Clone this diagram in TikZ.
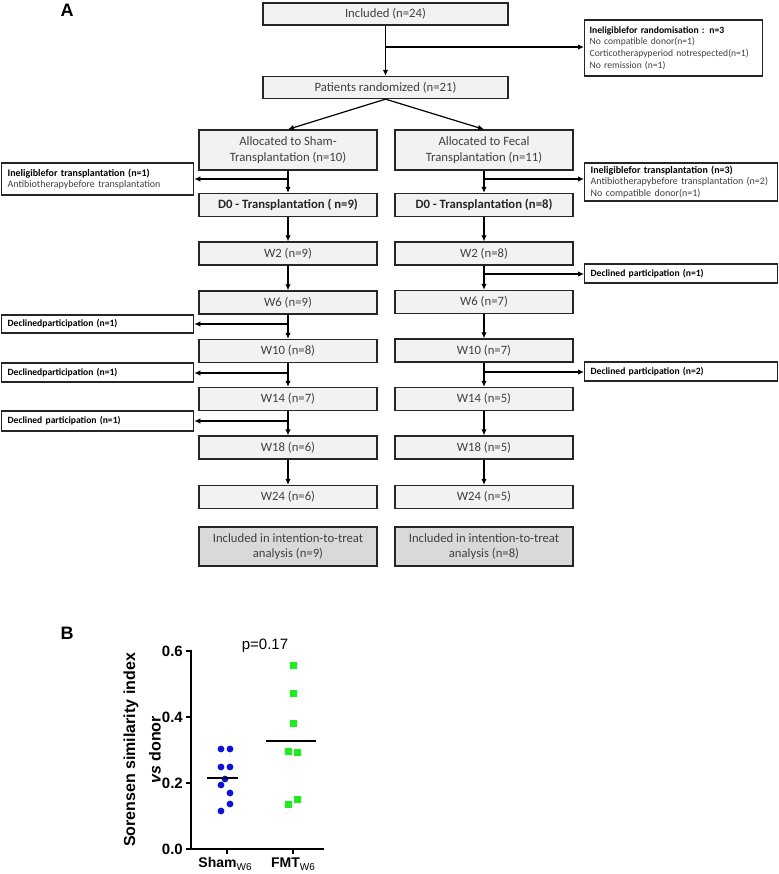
\documentclass[tikz,border=0pt]{standalone}
\usepackage{fontspec}
\setmainfont{Carlito}
\newfontfamily\arialf{Liberation Sans}
\usetikzlibrary{arrows.meta}
\definecolor{boxfill}{HTML}{F2F2F2}
\definecolor{ittfill}{HTML}{D9D9D9}
\definecolor{edge}{HTML}{262626}
\definecolor{txt}{HTML}{404040}
\definecolor{shamblue}{HTML}{0A10E8}
\definecolor{fmtgreen}{HTML}{18F018}
\begin{document}
\begin{tikzpicture}[x=1pt,y=-1pt,
  flow/.style={draw=edge, line width=1.3pt, fill=boxfill, inner sep=0pt, text=txt,
    font=\fontsize{12.7}{15.5}\selectfont, align=center, minimum width=178pt, minimum height=23pt},
  wide/.style={flow, minimum width=245pt, minimum height=22pt},
  itt/.style={flow, fill=ittfill, minimum height=39pt},
  bflow/.style={flow, text=black!85, font=\fontsize{12.7}{15}\selectfont\bfseries},
  side/.style={draw=edge, line width=1.3pt, fill=white, inner xsep=6pt, inner ysep=0pt,
    align=left, text=txt, anchor=west, font=\fontsize{10}{11.7}\selectfont},
  sidel/.style={side, text width=180pt},
  sider/.style={side, text width=181pt},
  decl/.style={font=\fontsize{9.6}{11}\selectfont\bfseries, text=black},
  arr/.style={draw=black, line width=1.2pt, -{Latex[length=6pt,width=5.5pt]}},
  tick/.style={font=\arialf\bfseries\fontsize{15}{15}\selectfont, anchor=east, inner sep=0pt},
  axis/.style={line width=2pt, line cap=rect}
]
\useasboundingbox (0,0) rectangle (778,874);

% ---------- Panel A ----------
\node[font=\arialf\bfseries\fontsize{18}{18}\selectfont] (lblA) at (67,10) {A};

\node[wide] (inc) at (385.5,14) {Included (n=24)};
\node[wide] (rand) at (385.5,87.5) {Patients randomized (n=21)};
\node[side, inner xsep=5pt, text width=168pt, minimum height=56pt, font=\fontsize{9.6}{11.7}\selectfont] (r0) at (584,48)
  {\textbf{\color{black}Ineligiblefor randomisation : n=3}\\No compatible donor(n=1)\\Corticotherapyperiod notrespected(n=1)\\No remission (n=1)};

\node[flow, minimum height=40pt] (sA) at (288,150) {Allocated to  Sham-\\Transplantation (n=10)};
\node[flow, minimum height=40pt] (fA) at (484,150) {Allocated to  Fecal\\Transplantation (n=11)};

\node[bflow] (s0) at (288,205) {D0 - Transplantation  ( n=9)};
\node[bflow] (f0) at (484,205) {D0 - Transplantation  (n=8)};
\node[flow] (s2) at (288,253.5) {W2 (n=9)};
\node[flow] (f2) at (484,253.5) {W2 (n=8)};
\node[flow] (s6) at (288,302.5) {W6 (n=9)};
\node[flow] (f6) at (484,302) {W6 (n=7)};
\node[flow] (s10) at (288,351) {W10 (n=8)};
\node[flow] (f10) at (484,350.5) {W10 (n=7)};
\node[flow] (s14) at (288,399) {W14 (n=7)};
\node[flow] (f14) at (484,399) {W14 (n=5)};
\node[flow] (s18) at (288,447.5) {W18 (n=6)};
\node[flow] (f18) at (484,447.5) {W18 (n=5)};
\node[flow] (s24) at (288,497) {W24 (n=6)};
\node[flow] (f24) at (484,497) {W24 (n=5)};
\node[itt] (sI) at (288,546.5) {Included in intention-to-treat\\analysis  (n=9)};
\node[itt] (fI) at (484,546.5) {Included in intention-to-treat\\analysis  (n=8)};

% side boxes
\node[sidel, minimum height=32pt] (l1) at (1,179)
  {\textbf{\color{black}Ineligiblefor transplantation (n=1)}\\Antibiotherapybefore transplantation};
\node[sider, minimum height=38pt] (r1) at (584,182)
  {\textbf{\color{black}Ineligiblefor transplantation (n=3)}\\Antibiotherapybefore transplantation (n=2)\\No compatible donor(n=1)};
\node[sider, minimum height=19pt, decl] (r2) at (584,273.5) {Declined participation (n=1)};
\node[sidel, minimum height=18pt, decl] (l2) at (1,324) {Declinedparticipation (n=1)};
\node[sider, minimum height=19pt, decl] (r3) at (584,371.5) {Declined participation (n=2)};
\node[sidel, minimum height=19pt, decl] (l3) at (1,372.5) {Declinedparticipation (n=1)};
\node[sidel, minimum height=20pt, decl] (l4) at (1,421) {Declined participation (n=1)};

% junction coordinates
\coordinate (jr0) at (385.5,47);
\coordinate (jl1) at (288,179);
\coordinate (jr1) at (484,179);
\coordinate (jr2) at (484,274);
\coordinate (jl2) at (288,324);
\coordinate (jl3) at (288,373);
\coordinate (jr3) at (484,372);
\coordinate (jl4) at (288,421);

% connectors
\draw[arr] (inc) -- (rand);
\draw[arr] (jr0) -- (jr0 -| r0.west);
\draw[arr] (rand.south) -- (sA.north);
\draw[arr] (rand.south) -- (fA.north);
\draw[arr] (sA) -- (s0);
\draw[arr] (fA) -- (f0);
\draw[arr] (s0) -- (s2);
\draw[arr] (f0) -- (f2);
\draw[arr] (s2) -- (s6);
\draw[arr] (f2) -- (f6);
\draw[arr] (s6) -- (s10);
\draw[arr] (f6) -- (f10);
\draw[arr] (s10) -- (s14);
\draw[arr] (f10) -- (f14);
\draw[arr] (s14) -- (s18);
\draw[arr] (f14) -- (f18);
\draw[arr] (s18) -- (s24);
\draw[arr] (f18) -- (f24);
\draw[arr] (jl1) -- (jl1 -| l1.east);
\draw[arr] (jr1) -- (jr1 -| r1.west);
\draw[arr] (jr2) -- (jr2 -| r2.west);
\draw[arr] (jl2) -- (jl2 -| l2.east);
\draw[arr] (jl3) -- (jl3 -| l3.east);
\draw[arr] (jr3) -- (jr3 -| r3.west);
\draw[arr] (jl4) -- (jl4 -| l4.east);

% ---------- Panel B ----------
\node[font=\arialf\bfseries\fontsize{18}{18}\selectfont] (lblB) at (67,633) {B};

\draw[axis] (191,651) -- (191,849) -- (323,849);
\foreach \v/\t in {0/0.0, 1/0.2, 2/0.4, 3/0.6} {
  \draw[line width=2pt] (186,849-66*\v) -- (191,849-66*\v);
  \node[tick] at (183,849-66*\v) {\t};
}
\draw[line width=2pt] (227,849) -- (227,854);
\draw[line width=2pt] (293,849) -- (293,854);

\node[font=\arialf\bfseries\fontsize{14}{14}\selectfont] (xl1) at (225,864)
  {Sham\raisebox{-3.5pt}{\fontsize{10}{10}\selectfont\mdseries W6}};
\node[font=\arialf\bfseries\fontsize{14}{14}\selectfont] (xl2) at (293,864)
  {FMT\raisebox{-3.5pt}{\fontsize{10}{10}\selectfont\mdseries W6}};

\node[rotate=90, font=\arialf\bfseries\fontsize{16}{16}\selectfont] (yl1) at (131,750) {Sorensen similarity index};
\node[rotate=90, font=\arialf\bfseries\fontsize{16}{16}\selectfont] (yl2) at (155,750) {\textit{vs} donor};

\node[font=\arialf\fontsize{15}{15}\selectfont] (pv) at (265,646) {p=0.17};

\foreach \x/\y in {221/749, 230/749, 221/767, 230/767, 225/779, 221/785, 230/793, 230/804, 221/811}
  \fill[shamblue] (\x,\y) circle (3.4);
\foreach \x/\y in {293/665, 293/693, 293/723, 288/751, 297/752, 297/799, 288/804}
  \fill[fmtgreen] (\x-3.5,\y-3.5) rectangle (\x+3.5,\y+3.5);

\draw[line width=2pt] (207,778) -- (238,778);
\draw[line width=2pt] (266,741) -- (316,741);
\end{tikzpicture}
\end{document}
